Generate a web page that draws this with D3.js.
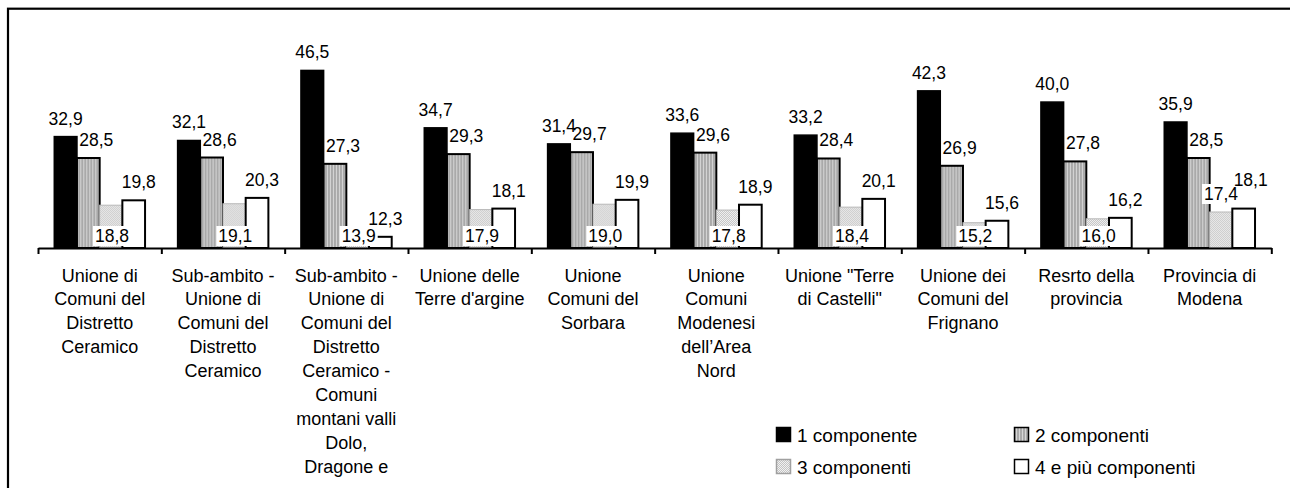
<!DOCTYPE html>
<html>
<head>
<meta charset="utf-8">
<script src="https://cdn.jsdelivr.net/npm/d3@7"></script>
<style>
  body { margin: 0; background: #fff; }
  svg { display: block; }
  text { font-family: "Liberation Sans", Arial, sans-serif; fill: #000; }
</style>
</head>
<body>
<svg id="chart" width="1290" height="488"></svg>
<script>
// Categories (one entry per line of the wrapped axis label)
const categories = [
  ["Unione di", "Comuni del", "Distretto", "Ceramico"],
  ["Sub-ambito -", "Unione di", "Comuni del", "Distretto", "Ceramico"],
  ["Sub-ambito -", "Unione di", "Comuni del", "Distretto", "Ceramico -", "Comuni", "montani valli", "Dolo,", "Dragone e"],
  ["Unione delle", "Terre d'argine"],
  ["Unione", "Comuni del", "Sorbara"],
  ["Unione", "Comuni", "Modenesi", "dell’Area", "Nord"],
  ["Unione \"Terre", "di Castelli\""],
  ["Unione dei", "Comuni del", "Frignano"],
  ["Resrto della", "provincia"],
  ["Provincia di", "Modena"]
];

const seriesNames = ["1 componente", "2 componenti", "3 componenti", "4 e più componenti"];

// Percentage of households by number of members
const unComponente   = [32.9, 32.1, 46.5, 34.7, 31.4, 33.6, 33.2, 42.3, 40.0, 35.9];
const dueComponenti  = [28.5, 28.6, 27.3, 29.3, 29.7, 29.6, 28.4, 26.9, 27.8, 28.5];
const treComponenti  = [18.8, 19.1, 13.9, 17.9, 19.0, 17.8, 18.4, 15.2, 16.0, 17.4];
const quattroEPiu    = [19.8, 20.3, 12.3, 18.1, 19.9, 18.9, 20.1, 15.6, 16.2, 18.1];

// Value axis domain
const yDomain = [10, 50];

// Where the "3 componenti" label sits: at the bar base or above the bar
const treLabelAtBase = [true, true, true, true, true, true, true, true, true, false];

const series = [unComponente, dueComponenti, treComponenti, quattroEPiu];

const svg = d3.select("#chart");

// Pattern fills
const defs = svg.append("defs");
const stripes = defs.append("pattern")
  .attr("id", "stripes").attr("patternUnits", "userSpaceOnUse")
  .attr("width", 3).attr("height", 3);
stripes.append("rect").attr("width", 3).attr("height", 3).attr("fill", "#a9a9a9");
stripes.append("rect").attr("x", 2).attr("width", 1).attr("height", 3).attr("fill", "#d6d6d6");

const dots = defs.append("pattern")
  .attr("id", "dots").attr("patternUnits", "userSpaceOnUse")
  .attr("width", 2).attr("height", 2);
dots.append("rect").attr("width", 2).attr("height", 2).attr("fill", "#f2f2f2");
dots.append("rect").attr("width", 1).attr("height", 1).attr("fill", "#c4c4c4");
dots.append("rect").attr("x", 1).attr("y", 1).attr("width", 1).attr("height", 1).attr("fill", "#c4c4c4");

const fills   = ["#000", "url(#stripes)", "url(#dots)", "#fff"];
const strokes = ["#000", "#000", "#b8b8b8", "#000"];
const strokeW = [1.5, 2, 1, 2];

// Outer frame
svg.append("rect")
  .attr("x", 8).attr("y", 8.7).attr("width", 1300).attr("height", 500)
  .attr("fill", "none").attr("stroke", "#000").attr("stroke-width", 2.2);

// Scales
const left = 38, right = 1271.3, baseY = 248, topY = 53.4;
const x0 = d3.scaleBand()
  .domain(d3.range(categories.length))
  .range([left, right])
  .paddingInner(0.264).paddingOuter(0.132);
const x1 = d3.scaleBand()
  .domain(d3.range(series.length))
  .range([0, x0.bandwidth()]);
const y = d3.scaleLinear().domain(yDomain).range([baseY, topY]);

// Bars
const groups = svg.append("g").selectAll("g")
  .data(categories.map((c, i) => i))
  .join("g")
  .attr("transform", i => `translate(${x0(i)},0)`);

groups.selectAll("rect")
  .data(i => series.map((s, k) => ({ k, v: s[i] })))
  .join("rect")
  .attr("x", d => x1(d.k))
  .attr("y", d => y(d.v))
  .attr("width", x1.bandwidth())
  .attr("height", d => y(yDomain[0]) - y(d.v))
  .attr("fill", d => fills[d.k])
  .attr("stroke", d => strokes[d.k])
  .attr("stroke-width", d => strokeW[d.k]);

// Category axis with ticks at group boundaries
const boundary = d3.scaleLinear().domain([0, categories.length]).range([left, right]);
const axis = svg.append("g")
  .attr("transform", `translate(0,${baseY})`)
  .call(d3.axisBottom(boundary).ticks(categories.length).tickSize(6).tickSizeOuter(0).tickFormat(""));
axis.select(".domain").attr("stroke", "#000").attr("stroke-width", 2);
axis.selectAll(".tick line").attr("stroke", "#000").attr("stroke-width", 2);

// Wrapped category labels
const catLabels = svg.append("g")
  .selectAll("text")
  .data(categories)
  .join("text")
  .attr("text-anchor", "middle")
  .attr("font-size", 18)
  .attr("transform", (c, i) => `translate(${boundary(i + 0.5)},0)`);
catLabels.selectAll("tspan")
  .data(c => c)
  .join("tspan")
  .attr("x", 0)
  .attr("y", (l, j) => 281.5 + j * 23.9)
  .text(l => l);

// Value labels
const fmt = v => d3.format(".1f")(v).replace(".", ",");
const labelDx = [0, 8, 1, 5];
const labelLayer = svg.append("g");
series.forEach((s, k) => {
  s.forEach((v, i) => {
    const treAbove = !treLabelAtBase[i];
    let cx = x0(i) + x1(k) + x1.bandwidth() / 2 + labelDx[k];
    let by = y(v) - 12;
    if (k === 2 && !treAbove) by = baseY - 6;
    if (k === 2 && treAbove) cx -= 1;
    // lift the last label clear of the "3 componenti" label when both sit above the bars
    if (k === 3 && treAbove) {
      by = Math.min(by, y(treComponenti[i]) - 12 - 14);
      cx += 2;
    }
    const g = labelLayer.append("g");
    const t = g.append("text")
      .attr("x", cx).attr("y", by)
      .attr("text-anchor", "middle")
      .attr("font-size", 17.5)
      .text(fmt(v));
    if (k === 2) {
      const w = t.node().getComputedTextLength();
      g.insert("rect", "text")
        .attr("x", cx - w / 2 - 2).attr("y", by - 16)
        .attr("width", w + 4).attr("height", 20)
        .attr("fill", "#fff");
    }
  });
});

// Legend
const legendPos = [[776, 427], [1014, 427], [776, 459], [1014, 459]];
const legend = svg.append("g").selectAll("g")
  .data(seriesNames)
  .join("g")
  .attr("transform", (n, k) => `translate(${legendPos[k][0]},${legendPos[k][1]})`);
legend.append("rect")
  .attr("x", 0.5).attr("y", 0.5).attr("width", 14).attr("height", 14)
  .attr("fill", (n, k) => fills[k])
  .attr("stroke", (n, k) => k === 2 ? "#a0a0a0" : "#000")
  .attr("stroke-width", 1.5);
legend.append("text")
  .attr("x", 21).attr("y", 15)
  .attr("font-size", 19)
  .text(n => n);
</script>
</body>
</html>
